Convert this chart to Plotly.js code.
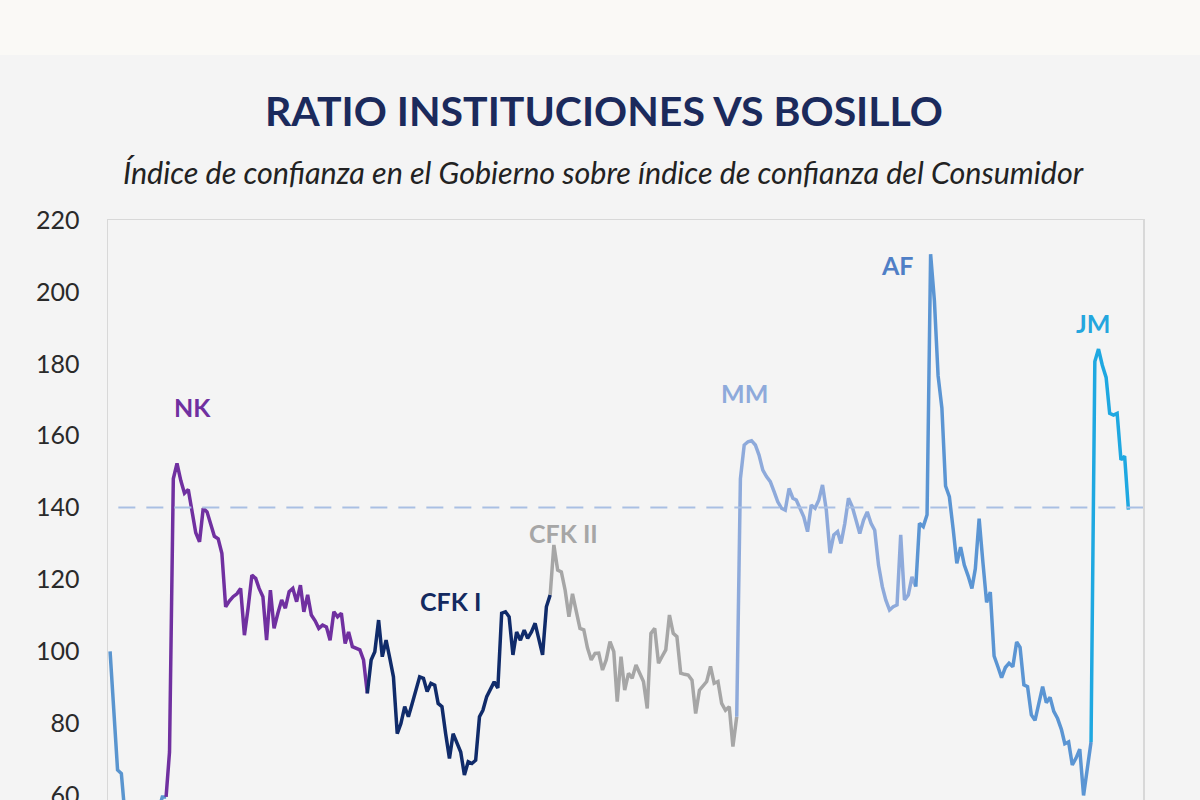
<!DOCTYPE html>
<html>
<head>
<meta charset="utf-8">
<script src="https://cdn.plot.ly/plotly-3.0.1.min.js"></script>
<style>
  html, body { margin: 0; padding: 0; overflow: hidden; background: #faf9f6; width: 1200px; height: 800px; }
  #chart { position: absolute; top: 55px; left: 0; width: 1200px; height: 862px; }
</style>
</head>
<body>
<div id="chart"></div>
<script>
// Monthly series, first month = Nov 2001
const START_YEAR = 2001, START_MONTH = 11;

// Segments by government (each starts with the last value of the previous one)
const preStart = 0;
const preValues = [100, 83, 67, 66, 55, 49, 45, 43, 42, 44, 46, 48, 52, 56, 59.5, 59.5];

const nkStart = 15;
const nkValues = [59.5, 72, 148, 152.3, 147.5, 144, 145, 139.5, 133, 130.5, 139.8, 138.8, 135.5, 132, 131.3, 127.3,
  112.4, 114, 115.2, 116, 117.5, 104.5, 112, 121.2, 120.3, 117.5, 115.2, 103.1, 117, 106.4, 110.6, 114.3, 112,
  116.6, 117.5, 113.8, 118.4, 111, 115.7, 110.1, 108.5, 106.4, 107.3, 106.8, 103.1, 111, 109.6, 110.6, 102.2,
  105.4, 101.3, 100.8, 100.4, 97.6, 88.3];

const cfk1Start = 69;
const cfk1Values = [88.3, 97.6, 99.9, 108.7, 98.5, 103.1, 98, 92.9, 77.1, 79.9, 84.6, 81.8, 85.5, 89.2, 92.9, 92.5,
  88.8, 91.1, 90.6, 85.5, 84.6, 77.1, 70.2, 77.1, 74.4, 72, 65.6, 69.3, 68.8, 69.7, 81.8, 83.6, 87.4, 89.2, 91.5,
  89.8, 110.6, 111, 109.6, 99, 105.4, 103.1, 105.9, 103.6, 105.4, 107.8, 103.1, 99, 112.4, 115.7];

const cfk2Start = 118;
const cfk2Values = [115.7, 129.6, 122.6, 122.1, 117, 109.6, 116, 111.5, 106.4, 106, 101, 97.6, 99.4, 99.5, 94.8,
  97.6, 102.7, 99.9, 86, 98.5, 89.2, 93.9, 92.5, 96.2, 93.9, 91.6, 84.1, 105, 106.4, 96.7, 98.5, 100.4, 110.1, 105,
  104.1, 93.9, 93.6, 93.4, 92, 82.7, 89.2, 90.4, 91.6, 95.8, 91.1, 91.6, 85.5, 83.6, 84.6, 73.5, 81.8];

const mmStart = 168;
const mmValues = [81.8, 148, 157.4, 158.3, 158.6, 157.4, 154.6, 150.4, 148.6, 147.2, 144.4, 141.6, 139.8, 139.3,
  145.3, 142.6, 142.1, 139.8, 137.4, 133.3, 140.7, 139.8, 142.1, 146.3, 139.3, 127.3, 132.4, 133.3, 130, 135.6,
  142.6, 140.2, 136.5, 132.8, 136.5, 138.8, 135.6, 133.7, 124, 118, 114.3, 111.5, 112.4, 112.9, 132.4, 114.3,
  115.7, 120.7, 118];

const afStart = 216;
const afValues = [118, 135.6, 134.7, 138, 210.5, 197.5, 176.7, 167.7, 146, 143, 134, 124.5, 129, 124, 121, 117.5,
  123, 136.9, 125, 113.6, 116.5, 98.7, 95.7, 92.7, 95.5, 96.7, 95.7, 102.6, 101.1, 90.7, 90.2, 82.3, 80.8, 85.2,
  90.2, 85.7, 87.2, 83.3, 81.3, 78.3, 74.3, 74.8, 68.4, 70.3, 72.8, 59.9, 68.4, 74.8];

const jmStart = 263;
const jmValues = [74.8, 180.6, 184.1, 179.6, 176.2, 166.2, 165.7, 166.2, 153.3, 154.3, 139.4];

// Labels
const labelTexts = ["NK", "CFK I", "CFK II", "MM", "AF", "JM"];
const labelMonth = [22, 91.4, 121.7, 170, 211, 263.5];
const labelValue = [168, 114, 132.9, 171.9, 207.5, 191.3];
const labelColors = ["#7030A0", "#13295F", "#A6A6A6", "#8EAADB", "#4F7FC6", "#24A6DE"];

const referenceLevel = 140;

function monthDate(idx) {
  const whole = Math.floor(idx);
  const frac = idx - whole;
  const total = (START_MONTH - 1) + whole;
  const y = START_YEAR + Math.floor(total / 12);
  const m = total % 12;
  const d = new Date(Date.UTC(y, m, 1));
  d.setUTCDate(1 + Math.round(frac * 30));
  return d.toISOString().slice(0, 10);
}

function seg(start, values, color) {
  return {
    type: "scatter", mode: "lines",
    x: values.map((_, k) => monthDate(start + k)),
    y: values,
    line: { color: color, width: 3.5, shape: "linear" },
    hoverinfo: "skip"
  };
}

const data = [
  seg(preStart, preValues, "#5A95CF"),
  seg(nkStart, nkValues, "#7030A0"),
  seg(cfk1Start, cfk1Values, "#102B6A"),
  seg(cfk2Start, cfk2Values, "#A6A6A6"),
  seg(mmStart, mmValues, "#8EAADB"),
  seg(afStart, afValues, "#5B95D3"),
  seg(jmStart, jmValues, "#1FA8E1")
];

const annotations = labelTexts.map((t, k) => ({
  x: monthDate(labelMonth[k]), y: labelValue[k], xref: "x", yref: "y",
  text: "<b>" + t + "</b>", showarrow: false,
  font: { family: "Lato, 'Open Sans', sans-serif", size: 25, color: labelColors[k] },
  xanchor: "center", yanchor: "middle"
}));

annotations.push({
  xref: "paper", yref: "paper", x: 0.4792, y: 1, yshift: 110,
  xanchor: "center", yanchor: "middle", showarrow: false,
  text: "<b>RATIO INSTITUCIONES VS BOSILLO</b>",
  font: { family: "Lato, 'Open Sans', sans-serif", size: 41, color: "#1B2A5C" }
});
annotations.push({
  xref: "paper", yref: "paper", x: 0.4792, y: 1, yshift: 48,
  xanchor: "center", yanchor: "middle", showarrow: false,
  text: "<i>Índice de confianza en el Gobierno sobre índice de confianza del Consumidor</i>",
  font: { family: "Lato, 'Open Sans', sans-serif", size: 30.5, color: "#222222" }
});

const layout = {
  width: 1200, height: 862,
  margin: { l: 108, r: 57, t: 165, b: 50 },
  paper_bgcolor: "#f4f4f4",
  plot_bgcolor: "#f4f4f4",
  showlegend: false,
  hovermode: false,
  xaxis: {
    type: "date",
    range: [monthDate(-0.53), monthDate(276.9)],
    showgrid: false, zeroline: false,
    showline: true, mirror: true, linecolor: "#d8d8d8", linewidth: 1.5,
    showticklabels: false, ticks: ""
  },
  yaxis: {
    range: [40, 220],
    tickvals: [60, 80, 100, 120, 140, 160, 180, 200, 220],
    showgrid: false, zeroline: false,
    showline: true, mirror: true, linecolor: "#d8d8d8", linewidth: 1.5,
    ticks: "", ticklabelstandoff: 22,
    tickfont: { family: "Lato, 'Open Sans', sans-serif", size: 25, color: "#2a2a2a" }
  },
  shapes: [{
    type: "line", xref: "paper", yref: "y",
    x0: 0.01, x1: 1, y0: referenceLevel, y1: referenceLevel,
    line: { color: "#A9BFE3", width: 2, dash: "17px,11px" }
  }],
  annotations: annotations
};

Plotly.newPlot("chart", data, layout, { staticPlot: true, displayModeBar: false });
</script>
</body>
</html>
